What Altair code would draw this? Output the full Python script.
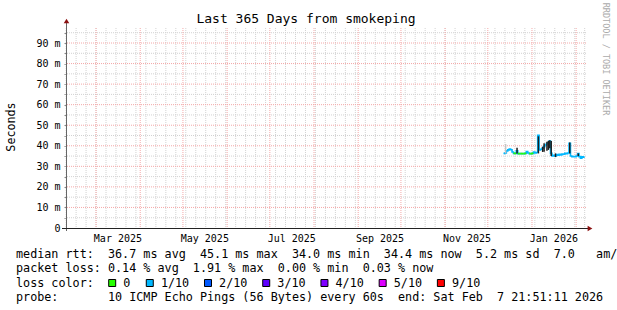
import altair as alt
import pandas as pd

# ---------------- values ----------------
first_day = "2025-12-12"          # first daily median drawn
median_ms = [36.3, 36.5, 37.5, 38.0, 38.4, 38.1, 37.0, 36.3, 36.3, 37.6,
             36.2, 36.2, 36.2, 36.2, 36.2, 36.3, 37.2, 36.5, 36.2, 36.2,
             36.3, 37.0, 36.5, 36.7, 45.1, 38.0, 38.3, 38.8, 39.6, 40.4,
             40.9, 41.5, 42.3, 36.3, 35.0, 35.4, 35.0, 35.7, 35.4, 35.9,
             35.5, 36.0, 35.9, 36.3, 36.2, 36.5, 41.2, 35.0, 34.7, 34.7,
             34.7, 35.0, 36.2, 34.7, 34.0, 34.6, 34.4, 34.4]
loss_tenths = [1, 1, 1, 1, 1, 1, 1, 0, 0, 1,
               0, 0, 0, 0, 0, 0, 1, 1, 0, 0,
               0, 1, 1, 1, 1, 1, 1, 1, 1, 1,
               1, 1, 1, 1, 1, 1, 1, 1, 1, 1,
               1, 1, 1, 1, 1, 1, 1, 1, 1, 1,
               1, 1, 1, 1, 1, 1, 1, 1]

smoke_dates = ["2025-12-13T12:00", "2025-12-21T12:00", "2026-01-05T12:00", "2026-01-08T12:00",
               "2026-01-09T12:00", "2026-01-11T12:00", "2026-01-12T12:00", "2026-01-13T12:00",
               "2026-01-14T12:00", "2026-01-17T12:00", "2026-01-27T12:00", "2026-02-02T12:00"]
smoke_lo = [36.3, 36.3, 36.3, 37.0, 37.1, 37.6, 38.0, 38.8, 35.0, 34.5, 36.3, 35.0]
smoke_hi = [40.9, 39.0, 44.6, 39.5, 41.2, 42.0, 42.4, 42.7, 42.3, 36.3, 41.6, 36.3]
smoke_shade = ["light", "dark", "dark", "dark", "dark", "dark", "dark", "dark",
               "dark", "dark", "dark", "dark"]

legend_labels = ["0", "1/10", "2/10", "3/10", "4/10", "5/10", "9/10"]
legend_colors = ["#26ff00", "#00b8ff", "#0059ff", "#5e00ff", "#7e00ff", "#dd00ff", "#ff0000"]

x_label_dates = [(2025, 3, 16), (2025, 5, 16), (2025, 7, 16), (2025, 9, 16),
                 (2025, 11, 16), (2026, 1, 16)]
y_ticks = [0, 5, 10, 15, 20, 25, 30, 35, 40, 45, 50, 55, 60, 65, 70, 75, 80, 85, 90, 95]
y_minor = [5, 15, 25, 35, 45, 55, 65, 75, 85, 95]
y_major = [10, 20, 30, 40, 50, 60, 70, 80, 90]

title_text = "Last 365 Days from smokeping"
y_title_text = "Seconds"
watermark_text = "RRDTOOL / TOBI OETIKER"
footer_lines = [
    "median rtt:  36.7 ms avg  45.1 ms max  34.0 ms min  34.4 ms now  5.2 ms sd  7.0   am/s",
    "packet loss: 0.14 % avg  1.91 % max  0.00 % min  0.03 % now",
    "loss color:",
    "probe:       10 ICMP Echo Pings (56 Bytes) every 60s  end: Sat Feb  7 21:51:11 2026",
]

# ---------------- tables ----------------
dates = pd.date_range(first_day, periods=len(median_ms), freq="D")
df = pd.DataFrame({"date": dates, "ms": median_ms, "loss": loss_tenths})
df["next"] = df["date"] + pd.Timedelta(days=1)
green = df[df["loss"] == 0]

smoke = pd.DataFrame({"date": pd.to_datetime(smoke_dates), "lo": smoke_lo,
                      "hi": smoke_hi, "shade": smoke_shade})

week_lines = pd.DataFrame({"t": pd.date_range("2025-02-08", "2026-02-07", freq="W-SAT")})
month_lines = pd.DataFrame({"t": pd.date_range("2025-03-01", "2026-02-01", freq="MS")})
minor_df = pd.DataFrame({"v": y_minor})
major_df = pd.DataFrame({"v": y_major})

NB = "\u00a0"
footer_df = pd.DataFrame({"line": [s.replace(" ", NB) for s in footer_lines],
                          "row": list(range(len(footer_lines)))})

lx = []
pos = 42.7
for lab in legend_labels:
    lx.append(pos)
    pos += 30.7 + 6.88 * len(lab)
legend_df = pd.DataFrame({"label": legend_labels, "color": legend_colors, "left": lx})

one = pd.DataFrame({"k": [0]})

MONO = "DejaVu Sans Mono"
W, H = 520, 200

xscale = alt.Scale(domain=[alt.DateTime(year=2025, month=2, date=7, hours=21, minutes=51, seconds=11),
                           alt.DateTime(year=2026, month=2, date=7, hours=21, minutes=51, seconds=11)],
                   nice=False)
yscale = alt.Scale(domain=[0, 97.3], nice=False, zero=False)

x_axis = alt.Axis(values=[alt.DateTime(year=y, month=m, date=d) for (y, m, d) in x_label_dates],
                  format="%b %Y", title=None, grid=False, domain=False, ticks=False,
                  labelFont=MONO, labelFontSize=10, labelColor="black", labelPadding=5,
                  labelFlush=False, labelOverlap=False)
y_axis = alt.Axis(values=y_ticks, title=None, grid=False, domain=False, tickSize=2,
                  tickColor="#8a8a8a",
                  labelExpr="datum.value % 10 == 0 ? (datum.value == 0 ? '0' : datum.value + ' m') : ''",
                  labelFont=MONO, labelFontSize=10, labelColor="black", labelPadding=4,
                  labelFlush=False, labelOverlap=False)

GRID_GRAY = "#d2d2d2"
GRID_RED = "#f4a8a8"

g_week = alt.Chart(week_lines).mark_rule(color=GRID_GRAY, strokeDash=[1, 1], strokeWidth=1).encode(
    x=alt.X("t:T", scale=xscale, axis=x_axis))
g_ymin = alt.Chart(minor_df).mark_rule(color=GRID_GRAY, strokeDash=[1, 1], strokeWidth=1).encode(
    y=alt.Y("v:Q", scale=yscale, axis=y_axis))
g_month = alt.Chart(month_lines).mark_rule(color=GRID_RED, strokeDash=[1, 1], strokeWidth=1).encode(
    x=alt.X("t:T", scale=xscale, axis=x_axis))
g_ymaj = alt.Chart(major_df).mark_rule(color=GRID_RED, strokeDash=[1, 1], strokeWidth=1).encode(
    y=alt.Y("v:Q", scale=yscale, axis=y_axis))

median_line = alt.Chart(df).mark_line(interpolate="step-after", strokeWidth=1.6, color="#00b8ff").encode(
    x=alt.X("date:T", scale=xscale, axis=x_axis),
    y=alt.Y("ms:Q", scale=yscale, axis=y_axis),
)
green_seg = alt.Chart(green).mark_rule(strokeWidth=1.8, color="#26ff00").encode(
    x=alt.X("date:T", scale=xscale, axis=x_axis),
    x2="next:T",
    y=alt.Y("ms:Q", scale=yscale, axis=y_axis),
)
smoke_layer = alt.Chart(smoke).mark_rule(strokeWidth=1.5).encode(
    x=alt.X("date:T", scale=xscale, axis=x_axis),
    y=alt.Y("lo:Q", scale=yscale, axis=y_axis),
    y2="hi:Q",
    color=alt.Color("shade:N", scale=alt.Scale(domain=["light", "dark"], range=["#c4c4c4", "#1e1e1e"]),
                    legend=None),
)

left_axis = alt.Chart(one).mark_rule(color="#666666", strokeWidth=1).encode(
    x=alt.value(0.5), y=alt.value(-5), y2=alt.value(H + 3))
bottom_axis = alt.Chart(one).mark_rule(color="#222222", strokeWidth=1).encode(
    x=alt.value(-4), x2=alt.value(W + 2), y=alt.value(H + 0.5))
arrow_up = alt.Chart(one).mark_point(shape="triangle-up", filled=True, size=30, color="#8b1010",
                                     opacity=1).encode(x=alt.value(0.5), y=alt.value(-7))
arrow_right = alt.Chart(one).mark_point(shape="triangle-right", filled=True, size=30, color="#8b1010",
                                        opacity=1).encode(x=alt.value(W + 4), y=alt.value(H + 0.5))

title = alt.Chart(one).mark_text(font=MONO, fontSize=13, color="black", align="center",
                                 baseline="middle").encode(
    x=alt.value(240), y=alt.value(-9), text=alt.value(title_text))
y_title = alt.Chart(one).mark_text(font=MONO, fontSize=11.7, color="black", align="center",
                                   baseline="middle", angle=270).encode(
    x=alt.value(-55), y=alt.value(99), text=alt.value(y_title_text))
watermark = alt.Chart(one).mark_text(font=MONO, fontSize=8.5, color="#aaaaaa", align="center",
                                     baseline="middle", angle=90).encode(
    x=alt.value(540), y=alt.value(31), text=alt.value(watermark_text))

footer = alt.Chart(footer_df).mark_text(font=MONO, fontSize=11.76, color="black", align="left",
                                        baseline="middle").transform_calculate(
    ypix="226 + datum.row * 14.33").encode(
    x=alt.value(-50), y=alt.Y("ypix:Q", scale=None), text="line:N")

legend_boxes = alt.Chart(legend_df).mark_square(size=49, opacity=1, stroke="black",
                                                strokeWidth=1).transform_calculate(
    cx="datum.left + 3.5").encode(
    x=alt.X("cx:Q", scale=None), y=alt.value(255), color=alt.Color("color:N", scale=None))
legend_text = alt.Chart(legend_df).mark_text(font=MONO, fontSize=11.76, color="black", align="left",
                                             baseline="middle").transform_calculate(
    tx="datum.left + 14.6").encode(
    x=alt.X("tx:Q", scale=None), y=alt.value(255), text="label:N")

chart = alt.layer(
    g_week, g_ymin, g_month, g_ymaj, median_line, green_seg, smoke_layer,
    left_axis, bottom_axis, arrow_up, arrow_right,
    title, y_title, watermark, footer, legend_boxes, legend_text,
).properties(
    width=W, height=H,
    autosize=alt.AutoSizeParams(type="none"),
    padding={"left": 66, "top": 28, "right": 31, "bottom": 82},
    background="white",
).configure_view(stroke=None)

chart.save("out.html", embed_options={"renderer": "svg", "actions": False})
